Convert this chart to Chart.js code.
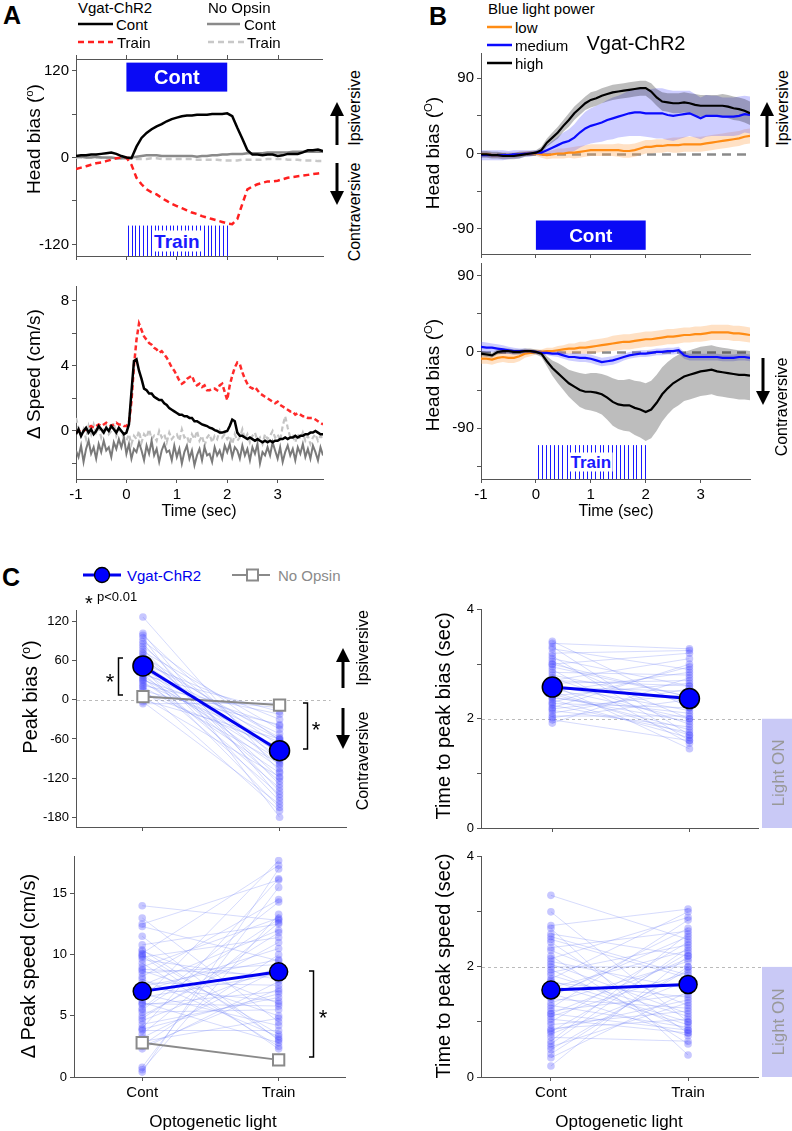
<!DOCTYPE html>
<html>
<head>
<meta charset="utf-8">
<script src="https://cdn.jsdelivr.net/npm/chart.js@4.4.0/dist/chart.umd.min.js"></script>
<style>
body { margin: 0; background: #fff; font-family: "Liberation Sans", Arial, sans-serif; }
#fig { position: relative; width: 792px; height: 1131px; overflow: hidden; }
#fig canvas { position: absolute; }
.t { position: absolute; white-space: nowrap; line-height: 1; color: #000; }
.t sup { font-size: 0.6em; vertical-align: 0.55em; }
svg { position: absolute; left: 0; top: 0; }
</style>
</head>
<body>
<div id="fig"></div>
<script>
// ---- time axes (s) ----
const TIME = [-1.0,-0.9,-0.8,-0.7,-0.6,-0.5,-0.4,-0.3,-0.2,-0.1,
  0.0,0.1,0.2,0.3,0.4,0.5,0.6,0.7,0.8,0.9, 1.0,1.1,1.2,1.3,1.4,1.5,1.6,1.7,1.8,1.9,
  2.0,2.1,2.2,2.3,2.4,2.5,2.6,2.7,2.8,2.9, 3.0,3.1,3.2,3.3,3.4,3.5,3.6,3.7,3.8,3.9];
const TIME_FINE = [-1.00,-0.95,-0.90,-0.85,-0.80,-0.75,-0.70,-0.65,-0.60,-0.55,-0.50,-0.45,-0.40,-0.35,-0.30,-0.25,-0.20,-0.15,-0.10,-0.05,
  0.00,0.05,0.10,0.15,0.20,0.25,0.30,0.35,0.40,0.45,0.50,0.55,0.60,0.65,0.70,0.75,0.80,0.85,0.90,0.95,
  1.00,1.05,1.10,1.15,1.20,1.25,1.30,1.35,1.40,1.45,1.50,1.55,1.60,1.65,1.70,1.75,1.80,1.85,1.90,1.95,
  2.00,2.05,2.10,2.15,2.20,2.25,2.30,2.35,2.40,2.45,2.50,2.55,2.60,2.65,2.70,2.75,2.80,2.85,2.90,2.95,
  3.00,3.05,3.10,3.15,3.20,3.25,3.30,3.35,3.40,3.45,3.50,3.55,3.60,3.65,3.70,3.75,3.80,3.85,3.90];
const LIGHT_ON = [0, 2];
const TRAIN_PULSES = [0.04,0.11,0.18,0.25,0.33,0.40,0.48,0.56,0.63,0.71,0.78,0.86,0.93,1.01,1.08,1.16,1.23,1.31,1.38,1.46,1.53,1.61,1.68,1.76,1.83,1.91,1.99];

// ---- A: head bias (deg) ----
const A_BIAS_VGAT_CONT = [2,3,3,4,4,5,6,7,5,2, 0,-1,15,27,34,39,43,46,50,53, 55,57,58,58,59,59,59,60,60,60, 61,57,41,26,10,4,4,3,4,4, 2,3,5,5,5,7,10,10,11,9];
const A_BIAS_VGAT_TRAIN = [-16,-14,-12,-10,-8,-7,-5,-3,-1,0, 0,-10,-28,-37,-44,-48,-51,-56,-60,-64, -67,-70,-73,-76,-78,-81,-83,-85,-87,-89, -91,-92,-85,-64,-44,-40,-37,-35,-33,-33, -32,-30,-28,-27,-26,-25,-24,-23,-22,-21];
const A_BIAS_NO_CONT = [1,1,0,0,1,0,0,0,-1,-1, -1,0,1,2,3,3,3,2,2,2, 2,2,2,2,1,2,2,3,3,4, 4,5,5,5,6,6,6,6,7,7, 7,7,7,8,8,8,8,8,8,8];
const A_BIAS_NO_TRAIN = [0,0,0,1,0,0,-1,-1,-1,-1, -1,-1,-2,-2,-2,-1,-1,-2,-2,-2, -2,-2,-2,-2,-3,-3,-3,-3,-3,-4, -4,-4,-4,-3,-3,-3,-3,-3,-2,-2, -2,-2,-3,-3,-3,-4,-4,-4,-5,-5];

// ---- A: delta speed (cm/s), on TIME_FINE ----
const A_SPD_VGAT_CONT = [-0.2,0.1,-0.3,0.0,0.2,-0.1,0.1,-0.2,0.0,0.3,0.1,-0.1,0.2,0.0,0.3,0.1,-0.1,0.2,0.0,-0.2,
  -0.1,0.4,2.4,4.3,4.4,3.7,3.2,2.6,2.5,2.3,2.3,2.1,2.0,1.9,1.9,1.7,1.6,1.4,1.3,1.2,
  1.1,1.0,1.0,0.9,0.9,0.8,0.8,0.6,0.6,0.5,0.4,0.35,0.3,0.2,0.15,0.05,0.0,-0.1,-0.1,-0.05,
  0.0,0.3,0.7,0.6,-0.1,-0.3,-0.3,-0.4,-0.5,-0.4,-0.5,-0.6,-0.5,-0.6,-0.7,-0.6,-0.7,-0.6,-0.7,-0.6,
  -0.6,-0.5,-0.5,-0.4,-0.5,-0.4,-0.4,-0.3,-0.4,-0.3,-0.3,-0.2,-0.2,-0.1,-0.1,0.0,-0.1,-0.2,-0.2];
const A_SPD_VGAT_TRAIN = [-0.1,0.0,0.1,0.0,0.1,0.2,0.3,0.2,0.3,0.4,0.3,0.4,0.5,0.4,0.3,0.4,0.5,0.4,0.4,0.3,
  0.3,0.5,1.8,4.0,5.6,6.6,6.2,5.8,5.6,5.4,5.3,5.1,5.0,4.8,4.9,4.7,4.5,4.2,3.9,3.7,
  3.4,3.1,2.9,3.0,3.2,3.3,3.4,3.0,2.8,2.9,2.7,2.8,2.5,2.5,2.6,2.6,2.5,2.8,2.9,2.4,
  1.9,2.8,3.4,3.9,4.2,4.1,3.6,3.2,2.9,2.7,2.6,2.7,2.5,2.3,2.2,2.1,2.0,1.9,1.8,1.7,
  1.8,1.6,1.5,1.4,1.3,1.2,1.2,1.0,1.1,1.0,0.9,0.9,0.8,0.8,0.8,0.7,0.6,0.5,0.4];
const A_SPD_NO_CONT = [-1.2,-1.6,-0.9,-1.9,-1.1,-0.6,-1.4,-1.0,-1.7,-0.8,-1.3,-0.6,-1.2,-1.0,-1.6,-0.7,-1.1,-0.5,-1.0,-0.4,
  -1.4,-0.8,-1.7,-1.1,-1.3,-0.7,-1.2,-1.8,-0.9,-1.4,-0.6,-1.5,-1.1,-1.9,-1.2,-0.8,-1.3,-1.2,-1.8,-0.9,
  -1.6,-1.1,-2.0,-1.3,-0.9,-1.7,-1.2,-2.1,-1.5,-1.1,-1.8,-1.0,-1.5,-1.4,-1.9,-1.0,-1.5,-1.2,-1.7,-0.9,
  -1.3,-0.8,-1.6,-1.0,-1.2,-1.7,-0.9,-1.5,-1.1,-1.8,-1.0,-1.4,-0.8,-2.0,-1.3,-1.5,-1.0,-1.5,-0.7,-1.2,
  -1.7,-1.0,-1.9,-1.3,-0.9,-1.5,-1.1,-1.8,-1.0,-1.4,-0.8,-1.6,-1.1,-1.7,-0.9,-1.3,-1.8,-1.0,-1.5];
const A_SPD_NO_TRAIN = [0.8,0.2,-0.3,0.1,-0.5,0.3,-0.2,0.4,-0.1,0.2,-0.4,0.1,0.3,-0.2,0.0,0.5,-0.3,0.1,-0.1,-0.4,
  -0.6,-0.2,-0.8,-0.3,-0.5,0.0,-0.7,-0.2,-0.4,0.1,-0.5,-0.3,-0.6,0.0,-0.4,-0.2,-0.7,-0.1,-0.5,-0.3,
  -0.2,-0.6,0.1,-0.4,-0.3,-0.8,-0.2,-0.5,0.0,-0.6,-0.3,-0.9,-0.4,-0.2,-0.7,-0.3,-0.5,0.0,-0.4,-0.2,
  -0.5,-0.3,-0.8,-0.2,-0.6,-0.4,0.1,-0.5,-0.2,-0.7,-0.3,-0.1,-0.6,-0.4,-0.8,-0.2,-0.5,-0.3,0.0,-0.4,
  -0.2,-0.6,0.3,0.9,0.2,-0.4,-0.3,-0.7,-0.2,-0.5,-0.1,-0.6,-0.3,-0.8,-0.4,-0.2,-0.6,-0.3,-0.5];

// ---- B: head bias by light power, mean and sem (deg) ----
const B_CONT_HIGH = [-1,-1,-2,-2,-3,-3,-3,-2,-1,0, 1,4,13,19,25,33,40,48,54,60, 64,66,69,71,73,74,75,76,77,78, 78,74,67,62,61,60,60,61,60,58, 57,57,57,57,57,56,54,53,51,48];
const B_CONT_HIGH_SEM = [4,4,4,4,4,4,4,4,3,3, 3,4,5,6,7,7,8,8,8,8, 9,9,9,9,9,9,9,9,9,9, 9,10,10,11,11,12,12,12,12,13, 13,13,13,13,14,14,14,14,14,14];
const B_CONT_MED = [-2,-2,-2,-2,-2,-2,-1,-1,0,0, 1,1,4,7,10,13,15,19,25,30, 33,35,37,40,42,44,46,48,49,49, 48,48,48,48,46,45,46,47,48,45, 42,45,45,45,44,44,44,45,47,46];
const B_CONT_MED_SEM = [6,6,6,6,6,5,5,5,4,4, 3,4,6,8,10,12,14,16,18,20, 21,22,23,24,25,25,26,27,28,28, 28,29,30,30,30,30,29,28,27,26, 25,25,24,24,23,23,23,23,22,22];
const B_CONT_LOW = [-1,-1,-2,-2,-2,-2,-2,-1,0,0, 0,-1,-2,-1,0,0,1,1,2,3, 4,4,4,4,4,4,3,3,4,6, 8,8,9,9,10,10,10,11,11,11, 11,12,13,14,15,16,17,18,20,21];
const B_CONT_LOW_SEM = [3,3,3,3,3,3,3,3,3,3, 3,4,5,5,6,6,6,7,7,7, 7,7,7,7,7,8,8,8,8,8, 8,8,8,8,8,9,9,9,9,9, 9,9,9,9,9,9,9,9,9,9];
const B_TRAIN_HIGH = [-2,-3,-4,0,1,1,0,0,1,1, 0,-2,-11,-19,-25,-31,-37,-41,-45,-47, -47,-48,-50,-54,-59,-62,-63,-63,-66,-68, -71,-68,-60,-50,-43,-37,-33,-29,-27,-25, -23,-22,-21,-23,-24,-25,-26,-27,-27,-28];
const B_TRAIN_HIGH_SEM = [3,3,3,3,3,3,3,3,3,3, 3,4,6,9,12,14,16,18,20,21, 22,23,24,26,28,29,30,31,32,33, 34,34,33,32,31,30,30,29,29,29, 29,29,29,29,29,29,29,29,29,29];
const B_TRAIN_MED = [6,5,5,4,3,2,1,1,1,1, 0,-1,-1,-2,-2,-4,-6,-6,-7,-7, -8,-10,-12,-11,-10,-8,-6,-4,-3,-2, -2,-1,0,0,1,1,2,-4,-6,-6, -6,-6,-6,-6,-7,-7,-7,-6,-6,-7];
const B_TRAIN_MED_SEM = [6,6,5,5,5,4,4,3,3,2, 2,3,3,3,4,4,4,5,5,5, 5,5,5,5,5,5,4,4,4,4, 4,4,4,4,4,4,4,4,4,4, 4,4,4,4,4,4,4,4,4,4];
const B_TRAIN_LOW = [-8,-8,-9,-7,-6,-7,-7,-5,-2,-1, 0,0,1,1,2,3,4,4,5,5, 6,7,8,9,10,11,12,12,13,14, 15,15,16,17,18,18,19,20,20,21, 21,22,23,23,23,23,22,22,21,20];
const B_TRAIN_LOW_SEM = [6,6,6,6,6,6,6,6,5,4, 3,3,4,4,5,5,6,6,7,7, 8,8,8,8,9,9,9,9,9,9, 9,9,9,9,9,9,9,9,9,9, 9,9,9,9,9,9,9,9,9,9];

// ---- C: per-animal peaks (Cont, Train) and group means ----
const C_BIAS_CONT = [127,102,99,95,90,86,82,78,74,71,68,65,62,60,57,55,52,50,48,46,44,42,40,38,36,34,32,30,28,25,22,20,17,14,10,7,4,0,-3,-6];
const C_BIAS_TRAIN = [-110,-150,-95,-180,-62,-130,-85,-140,-45,-120,-70,-100,-155,-58,-88,-30,-125,-75,-165,-52,-105,-60,-135,-18,-92,-145,-80,-40,-112,-65,-22,-98,-170,-38,-72,-12,-118,-60,-160,-5];
const C_BIAS_MEAN = [52, -78];
const C_BIAS_NO_OPSIN = [5, -8];
const C_TPB_CONT = [3.42,3.38,3.32,3.28,3.2,3.15,3.1,3.05,3.0,2.95,2.9,2.85,2.8,2.75,2.7,2.65,2.62,2.58,2.55,2.5,2.45,2.42,2.38,2.35,2.3,2.28,2.25,2.2,2.18,2.15,2.1,2.05,2.02,1.98,1.92,2.4,2.6,2.7,2.5,3.0];
const C_TPB_TRAIN = [2.2,3.28,1.7,2.9,3.25,1.6,2.6,2.0,3.2,2.4,1.55,2.8,2.3,1.9,3.1,2.7,1.45,2.5,2.0,2.85,1.8,2.65,2.1,1.65,2.95,2.2,1.75,3.0,2.45,1.85,2.55,2.05,2.35,1.6,2.75,1.95,2.15,2.6,1.7,2.4];
const C_TPB_MEAN = [2.58, 2.37];
const C_SPD_CONT = [14.0,13.0,12.5,12.3,11.5,10.8,10.3,10.1,10.0,9.8,9.6,9.3,9.0,8.7,8.5,8.2,8.0,7.7,7.5,7.3,7.0,6.8,6.5,6.3,6.1,5.9,5.6,5.3,5.0,4.6,4.3,4.0,3.8,3.5,3.2,2.9,2.6,2.3,0.8,0.6,0.4,9.9,7.4,6.0,4.8,3.9,10.4,8.8,5.5,2.5];
const C_SPD_TRAIN = [12.8,4.5,16.1,9.5,3.0,12.5,6.0,17.3,3.5,11.4,8.0,2.5,13.0,5.0,9.2,14.5,3.3,7.5,12.0,6.2,10.5,4.2,8.4,17.7,2.8,7.0,14.3,5.5,11.0,9.0,6.5,16.2,3.8,12.6,8.8,4.8,10.0,7.8,15.5,13.3,17.0,2.3,9.6,5.8,11.8,6.8,3.1,8.3,12.9,7.2];
const C_SPD_MEAN = [7.0, 8.6];
const C_SPD_NO_OPSIN = [2.8, 1.4];
const C_TPS_CONT = [3.3,3.0,2.75,2.7,2.6,2.5,2.45,2.35,2.3,2.2,2.15,2.1,2.0,1.95,1.9,1.85,1.78,1.72,1.68,1.62,1.58,1.52,1.48,1.42,1.35,1.3,1.25,1.2,1.15,1.1,1.05,1.0,0.95,0.88,0.82,0.78,0.72,0.65,0.55,0.5,0.42,0.35,0.2,1.75,1.45,0.85,2.55,1.15,0.6,2.05];
const C_TPS_TRAIN = [2.5,1.0,3.05,0.4,2.2,1.8,0.8,2.65,1.3,0.6,2.9,1.6,2.0,0.85,2.4,1.1,3.0,1.45,0.95,2.3,1.7,0.75,2.55,1.25,2.1,0.9,2.85,1.5,2.15,1.9,0.8,2.45,1.2,1.05,2.25,1.75,0.65,2.6,1.35,1.95,2.0,1.55,2.2,1.0,2.7,1.4,1.85,0.85,2.35,1.15];
const C_TPS_MEAN = [1.58, 1.68];

// tick sets
const T_TICKS = [-1, 0, 1, 2, 3];
const T_LABELS = ['-1', '0', '1', '2', '3'];
const COND_TICKS = [0, 1];
const COND_LABELS = ['Cont', 'Train'];

Chart.defaults.font.family = '"Liberation Sans", Arial, sans-serif';
Chart.defaults.color = '#000';

const fig = document.getElementById('fig');

function axis(o, size, horiz) {
  return {
    type: 'linear', min: o.min, max: o.max,
    afterBuildTicks: s => { s.ticks = o.ticks.map(v => ({ value: v })); },
    afterFit: s => { if (horiz) s.height = size; else s.width = size; },
    border: { display: true, color: '#555', width: 1 },
    grid: { drawOnChartArea: false, tickLength: 4, color: '#555' },
    ticks: {
      font: { size: o.fs || 15 }, color: '#000', padding: 3, maxRotation: 0, autoSkip: false,
      callback: (v, i) => (o.labels ? o.labels[i] : '')
    }
  };
}

function panel(area, datasets, xo, yo, deco, marg) {
  const m = Object.assign({ l: 60, r: 8, t: 8, b: 40 }, marg || {});
  const cv = document.createElement('canvas');
  cv.width = area.r - area.l + m.l + m.r;
  cv.height = area.b - area.t + m.t + m.b;
  cv.style.left = (area.l - m.l) + 'px';
  cv.style.top = (area.t - m.t) + 'px';
  fig.appendChild(cv);
  return new Chart(cv, {
    type: 'line',
    data: { datasets },
    options: {
      responsive: false, animation: false, events: [],
      layout: { padding: { top: m.t, right: m.r, left: 0, bottom: 0 } },
      plugins: { legend: { display: false }, tooltip: { enabled: false } },
      scales: { x: axis(xo, m.b, true), y: axis(yo, m.l, false) }
    },
    plugins: deco ? [{ id: 'deco', beforeDatasetsDraw: deco.before, afterDatasetsDraw: deco.after }] : []
  });
}

function series(xs, ys, color, width, dash, order) {
  return { data: xs.map((x, i) => ({ x, y: ys[i] })), borderColor: color, borderWidth: width,
    borderDash: dash || [], pointRadius: 0, fill: false, tension: 0, order: order || 0 };
}
function band(xs, mean, sem, color) {
  return [
    { data: xs.map((x, i) => ({ x, y: mean[i] + sem[i] })), borderColor: 'rgba(0,0,0,0)', borderWidth: 0,
      pointRadius: 0, backgroundColor: color, fill: '+1', tension: 0, order: 10 },
    { data: xs.map((x, i) => ({ x, y: mean[i] - sem[i] })), borderColor: 'rgba(0,0,0,0)', borderWidth: 0,
      pointRadius: 0, fill: false, tension: 0, order: 10 }
  ];
}
function pairs(a, b) {
  const d = [];
  a.forEach((v, i) => { d.push({ x: 0, y: v }, { x: 1, y: b[i] }, { x: 0.5, y: null }); });
  return d;
}
function animals(a, b) {
  return { data: pairs(a, b), borderColor: 'rgba(120,135,245,0.38)', borderWidth: 0.8, spanGaps: false,
    pointRadius: 3.8, pointBackgroundColor: 'rgba(70,70,255,0.3)', pointBorderColor: 'rgba(0,0,0,0)',
    pointBorderWidth: 0, tension: 0, order: 5 };
}
function meanLine(m, r) {
  return { data: [{ x: 0, y: m[0] }, { x: 1, y: m[1] }], borderColor: '#0000f0', borderWidth: 3,
    pointRadius: r, pointBackgroundColor: '#0000ff', pointBorderColor: '#000', pointBorderWidth: 1.5, order: 0 };
}
function noOpsinLine(m) {
  return { data: [{ x: 0, y: m[0] }, { x: 1, y: m[1] }], borderColor: '#8a8a8a', borderWidth: 2,
    pointStyle: 'rect', pointRadius: 8, pointBackgroundColor: '#fff', pointBorderColor: '#8a8a8a',
    pointBorderWidth: 2, order: 1 };
}

// decorations drawn through the scales
function lightBox(ctx, x, y, y0, y1) {
  ctx.fillStyle = '#0a0af5';
  const l = x.getPixelForValue(LIGHT_ON[0]), r = x.getPixelForValue(LIGHT_ON[1]);
  ctx.fillRect(l, y.getPixelForValue(y1), r - l, y.getPixelForValue(y0) - y.getPixelForValue(y1));
}
function pulses(ctx, x, y, y0, y1) {
  ctx.strokeStyle = '#1a1aff'; ctx.lineWidth = 1; ctx.beginPath();
  TRAIN_PULSES.forEach(t => {
    const px = Math.round(x.getPixelForValue(t)) + 0.5;
    ctx.moveTo(px, y.getPixelForValue(y0)); ctx.lineTo(px, y.getPixelForValue(y1));
  });
  ctx.stroke();
}
function zeroDash(ctx, ca, y, v, color, w, dash, ext) {
  ctx.save(); ctx.strokeStyle = color; ctx.lineWidth = w; ctx.setLineDash(dash);
  const py = Math.round(y.getPixelForValue(v)) + 0.5;
  ctx.beginPath(); ctx.moveTo(ca.left + 1, py); ctx.lineTo(ca.right + ext, py); ctx.stroke(); ctx.restore();
}
function lightOnRect(ch) {
  const { ctx, chartArea: ca, scales: { y } } = ch;
  ctx.fillStyle = '#c9c9f6';
  const top = y.getPixelForValue(2), bot = y.getPixelForValue(0);
  ctx.fillRect(ca.right + 4, top, 32, bot - top);
}

// ---------- panel A ----------
const chA1 = panel({ l: 76, r: 323, t: 55, b: 256 }, [
  series(TIME, A_BIAS_NO_TRAIN, '#c8c8c8', 2.5, [6, 4], 4),
  series(TIME, A_BIAS_NO_CONT, '#8a8a8a', 2.5, [], 3),
  series(TIME, A_BIAS_VGAT_TRAIN, '#ff1f1f', 2.5, [6, 4], 2),
  series(TIME, A_BIAS_VGAT_CONT, '#000', 2.5, [], 1)
], { min: -1, max: 3.9, ticks: T_TICKS },
   { min: -136, max: 136, ticks: [-120, -60, 0, 60, 120], labels: ['-120', '', '0', '', '120'] },
   { after: ch => {
       const { ctx, chartArea: ca, scales: { x, y } } = ch;
       ctx.save();
       ctx.strokeStyle = '#555'; ctx.lineWidth = 1; ctx.beginPath();
       ctx.moveTo(ca.left, ca.top + 0.5); ctx.lineTo(ca.right, ca.top + 0.5);
       T_TICKS.forEach(v => { const px = Math.round(x.getPixelForValue(v)) + 0.5; ctx.moveTo(px, ca.top); ctx.lineTo(px, ca.top - 4); });
       ctx.stroke();
       lightBox(ctx, x, y, 91, 131);
       pulses(ctx, x, y, -94, -136);
       ctx.restore();
     } }, { b: 12 });

const chA2 = panel({ l: 76, r: 323, t: 282, b: 479 }, [
  series(TIME_FINE, A_SPD_NO_TRAIN, '#c4c4c4', 2.2, [5, 3], 4),
  series(TIME_FINE, A_SPD_NO_CONT, '#7a7a7a', 2, [], 3),
  series(TIME_FINE, A_SPD_VGAT_TRAIN, '#ff2a2a', 2.5, [5, 3], 2),
  series(TIME_FINE, A_SPD_VGAT_CONT, '#000', 2.5, [], 1)
], { min: -1, max: 3.9, ticks: T_TICKS, labels: T_LABELS },
   { min: -2.95, max: 8.9, ticks: [-2, 0, 2, 4, 6, 8], labels: ['', '0', '', '4', '', '8'] });

// ---------- panel B ----------
const chB1 = panel({ l: 481, r: 750, t: 49, b: 254 }, [
  ...band(TIME, B_CONT_HIGH, B_CONT_HIGH_SEM, 'rgba(0,0,0,0.26)'),
  ...band(TIME, B_CONT_MED, B_CONT_MED_SEM, 'rgba(90,90,255,0.30)'),
  ...band(TIME, B_CONT_LOW, B_CONT_LOW_SEM, 'rgba(255,165,80,0.33)'),
  series(TIME, B_CONT_LOW, '#ff8c14', 2.2, [], 3),
  series(TIME, B_CONT_MED, '#0a0aff', 2.2, [], 2),
  series(TIME, B_CONT_HIGH, '#000', 2.2, [], 1)
], { min: -1, max: 3.9, ticks: T_TICKS },
   { min: -120, max: 120, ticks: [-90, -45, 0, 45, 90], labels: ['-90', '', '0', '', '90'] },
   { before: ch => zeroDash(ch.ctx, ch.chartArea, ch.scales.y, 0, '#8a8a8a', 2.5, [9, 6], 0),
     after: ch => { const { ctx, scales: { x, y } } = ch; ctx.save(); lightBox(ctx, x, y, -115, -80); ctx.restore(); } },
   { b: 12 });

const chB2 = panel({ l: 481, r: 750, t: 259, b: 479 }, [
  ...band(TIME, B_TRAIN_HIGH, B_TRAIN_HIGH_SEM, 'rgba(0,0,0,0.26)'),
  ...band(TIME, B_TRAIN_MED, B_TRAIN_MED_SEM, 'rgba(90,90,255,0.30)'),
  ...band(TIME, B_TRAIN_LOW, B_TRAIN_LOW_SEM, 'rgba(255,165,80,0.33)'),
  series(TIME, B_TRAIN_LOW, '#ff8c14', 2.2, [], 3),
  series(TIME, B_TRAIN_MED, '#0a0aff', 2.2, [], 2),
  series(TIME, B_TRAIN_HIGH, '#000', 2.2, [], 1)
], { min: -1, max: 3.9, ticks: T_TICKS, labels: T_LABELS },
   { min: -150, max: 105, ticks: [-135, -90, -45, 0, 45, 90], labels: ['', '-90', '', '0', '', '90'] },
   { before: ch => zeroDash(ch.ctx, ch.chartArea, ch.scales.y, 0, '#8a8a8a', 2.5, [9, 6], 0),
     after: ch => { const { ctx, scales: { x, y } } = ch; ctx.save(); pulses(ctx, x, y, -110, -150); ctx.restore(); } });

// ---------- panel C ----------
const chC1 = panel({ l: 76, r: 350, t: 607, b: 827 }, [
  animals(C_BIAS_CONT, C_BIAS_TRAIN), noOpsinLine(C_BIAS_NO_OPSIN), meanLine(C_BIAS_MEAN, 10)
], { min: -0.49, max: 1.49, ticks: COND_TICKS, labels: ['', ''] },
   { min: -195, max: 137, ticks: [-180, -120, -60, 0, 60, 120], labels: ['-180', '-120', '-60', '0', '60', '120'], fs: 13 },
   { before: ch => zeroDash(ch.ctx, ch.chartArea, ch.scales.y, 0, '#bbb', 1, [3, 3], -16) }, { b: 12 });

const chC2 = panel({ l: 481, r: 758, t: 606, b: 828 }, [
  animals(C_TPB_CONT, C_TPB_TRAIN), meanLine(C_TPB_MEAN, 10)
], { min: -0.52, max: 1.5, ticks: COND_TICKS, labels: ['', ''] },
   { min: 0, max: 4, ticks: [0, 1, 2, 3, 4], labels: ['0', '', '2', '', '4'], fs: 13 },
   { before: ch => { zeroDash(ch.ctx, ch.chartArea, ch.scales.y, 2, '#bbb', 1, [3, 3], 6); lightOnRect(ch); } },
   { b: 12, r: 36 });

const chC3 = panel({ l: 74, r: 348, t: 854, b: 1077 }, [
  animals(C_SPD_CONT, C_SPD_TRAIN), noOpsinLine(C_SPD_NO_OPSIN), meanLine(C_SPD_MEAN, 9)
], { min: -0.5, max: 1.49, ticks: COND_TICKS, labels: COND_LABELS },
   { min: 0, max: 18, ticks: [0, 5, 10, 15], labels: ['0', '5', '10', '15'], fs: 13 });

const chC4 = panel({ l: 481, r: 758, t: 854, b: 1077 }, [
  animals(C_TPS_CONT, C_TPS_TRAIN), meanLine(C_TPS_MEAN, 9)
], { min: -0.51, max: 1.51, ticks: COND_TICKS, labels: COND_LABELS },
   { min: 0, max: 4, ticks: [0, 1, 2, 3, 4], labels: ['0', '', '2', '', '4'], fs: 13 },
   { before: ch => { zeroDash(ch.ctx, ch.chartArea, ch.scales.y, 2, '#bbb', 1, [3, 3], 6); lightOnRect(ch); } },
   { r: 36 });

// ---------- text ----------
function txt(x, y, html, css, mode) {
  const d = document.createElement('div');
  d.className = 't';
  d.innerHTML = html;
  d.style.cssText += 'left:' + x + 'px;top:' + y + 'px;' + (css || '');
  d.style.transform = mode === 'rot' ? 'translate(-50%,-50%) rotate(-90deg)'
    : mode === 'ctr' ? 'translate(-50%,-50%)' : 'translate(0,-50%)';
  fig.appendChild(d);
  return d;
}
function page(ch, xv, yv) {
  return [ch.canvas.offsetLeft + ch.scales.x.getPixelForValue(xv), ch.canvas.offsetTop + ch.scales.y.getPixelForValue(yv)];
}

const BIG = 'font-weight:bold;font-size:25px;';
txt(3, 15, 'A', BIG); txt(429, 16, 'B', BIG); txt(2, 577, 'C', BIG);

// A legend and labels
const L15 = 'font-size:15px;';
txt(78, 7, 'Vgat-ChR2', L15); txt(116, 24, 'Cont', L15); txt(117, 42, 'Train', L15);
txt(208, 7, 'No Opsin', L15); txt(244, 24, 'Cont', L15); txt(247, 42, 'Train', L15);
txt(33, 139, 'Head bias (<sup>o</sup>)', 'font-size:19px;', 'rot');
txt(33, 374, 'Δ Speed (cm/s)', 'font-size:19px;', 'rot');
txt(199, 511, 'Time (sec)', 'font-size:16px;', 'ctr');
txt(355, 108, 'Ipsiversive', 'font-size:16px;', 'rot');
txt(355, 212, 'Contraversive', 'font-size:16px;', 'rot');
let p = page(chA1, 1, 111);
txt(p[0], p[1], 'Cont', 'font-size:20px;font-weight:bold;color:#fff;', 'ctr');
p = page(chA1, 1, -115);
txt(p[0], p[1], 'Train', 'font-size:19px;font-weight:bold;color:#1a1aff;background:#fff;padding:1px 2px;', 'ctr');

// B legend and labels
txt(488, 8, 'Blue light power', L15);
txt(515, 27, 'low', L15); txt(515, 45, 'medium', L15); txt(515, 63, 'high', L15);
txt(636, 43, 'Vgat-ChR2', 'font-size:20px;', 'ctr');
txt(432, 153, 'Head bias (<sup>O</sup>)', 'font-size:19px;', 'rot');
txt(432, 375, 'Head bias (<sup>O</sup>)', 'font-size:19px;', 'rot');
txt(616, 511, 'Time (sec)', 'font-size:16px;', 'ctr');
txt(783, 108, 'Ipsiversive', 'font-size:16px;', 'rot');
txt(782, 407, 'Contraversive', 'font-size:16px;', 'rot');
p = page(chB1, 1, -97.5);
txt(p[0], p[1], 'Cont', 'font-size:19px;font-weight:bold;color:#fff;', 'ctr');
p = page(chB2, 1, -130);
txt(p[0], p[1], 'Train', 'font-size:17px;font-weight:bold;color:#1a1aff;background:#fff;padding:1px 2px;', 'ctr');

// C legend and labels
txt(127, 575, 'Vgat-ChR2', L15 + 'color:#0000ee;');
txt(278, 575, 'No Opsin', L15 + 'color:#8a8a8a;');
txt(89, 603, '*', 'font-size:20px;', 'ctr');
txt(97, 596, 'p&lt;0.01', 'font-size:13px;');
txt(30, 697, 'Peak bias (<sup>o</sup>)', 'font-size:20px;', 'rot');
txt(363, 648, 'Ipsiversive', 'font-size:16px;', 'rot');
txt(363, 761, 'Contraversive', 'font-size:16px;', 'rot');
txt(110, 682, '*', 'font-size:22px;', 'ctr');
txt(316, 730, '*', 'font-size:22px;', 'ctr');
txt(323, 1018, '*', 'font-size:22px;', 'ctr');
txt(443, 716, 'Time to peak bias (sec)', 'font-size:20px;', 'rot');
txt(28, 966, 'Δ Peak speed (cm/s)', 'font-size:20px;', 'rot');
txt(443, 966, 'Time to peak speed (sec)', 'font-size:20px;', 'rot');
txt(213, 1121, 'Optogenetic light', 'font-size:17px;', 'ctr');
txt(619, 1121, 'Optogenetic light', 'font-size:17px;', 'ctr');
p = page(chC2, 0, 1);
txt(chC2.canvas.offsetLeft + chC2.chartArea.right + 20, p[1], 'Light ON', 'font-size:17px;color:#999;', 'rot');
p = page(chC4, 0, 1);
txt(chC4.canvas.offsetLeft + chC4.chartArea.right + 20, p[1], 'Light ON', 'font-size:17px;color:#999;', 'rot');

// ---------- arrows, brackets, legend keys ----------
const parts = [];
function arrow(x, y0, y1) {
  const dir = y1 < y0 ? -1 : 1, hl = 14, hw = 7;
  parts.push(`<line x1="${x}" y1="${y0}" x2="${x}" y2="${y1 - dir * hl}" stroke="#000" stroke-width="3"/>`);
  parts.push(`<polygon points="${x - hw},${y1 - dir * hl} ${x + hw},${y1 - dir * hl} ${x},${y1}" fill="#000"/>`);
}
function key(x0, x1, y, color, dash, w) {
  parts.push(`<line x1="${x0}" y1="${y}" x2="${x1}" y2="${y}" stroke="${color}" stroke-width="${w || 2.5}" ${dash ? 'stroke-dasharray="' + dash + '"' : ''}/>`);
}
arrow(337, 145, 102); arrow(337, 163, 205);
arrow(767, 147, 102); arrow(763, 358, 405);
arrow(343, 688, 648); arrow(343, 708, 749);
key(78, 113, 24, '#000'); key(78, 113, 42, '#ff1f1f', '6,4');
key(207, 240, 24, '#8a8a8a'); key(208, 245, 42, '#c8c8c8', '6,4');
key(487, 512, 27, '#ff8c14'); key(487, 512, 45, '#0a0aff'); key(487, 512, 63, '#000');
key(83, 121, 575, '#0000f0', null, 3);
parts.push('<circle cx="102" cy="575" r="7.5" fill="#0000ff" stroke="#000" stroke-width="1.3"/>');
key(232, 270, 575, '#8a8a8a', null, 2);
parts.push('<rect x="247" y="569.5" width="11" height="11" fill="#fff" stroke="#8a8a8a" stroke-width="2"/>');
parts.push('<path d="M123,658 H118.5 V695 H123" fill="none" stroke="#000" stroke-width="1.5"/>');
parts.push('<path d="M303,703 H307.5 V749 H303" fill="none" stroke="#000" stroke-width="1.5"/>');
parts.push('<path d="M309,971 H313.5 V1057 H309" fill="none" stroke="#000" stroke-width="1.5"/>');
const svg = document.createElementNS('http://www.w3.org/2000/svg', 'svg');
svg.setAttribute('width', 792); svg.setAttribute('height', 1131);
svg.innerHTML = parts.join('');
fig.appendChild(svg);
</script>
</body>
</html>
